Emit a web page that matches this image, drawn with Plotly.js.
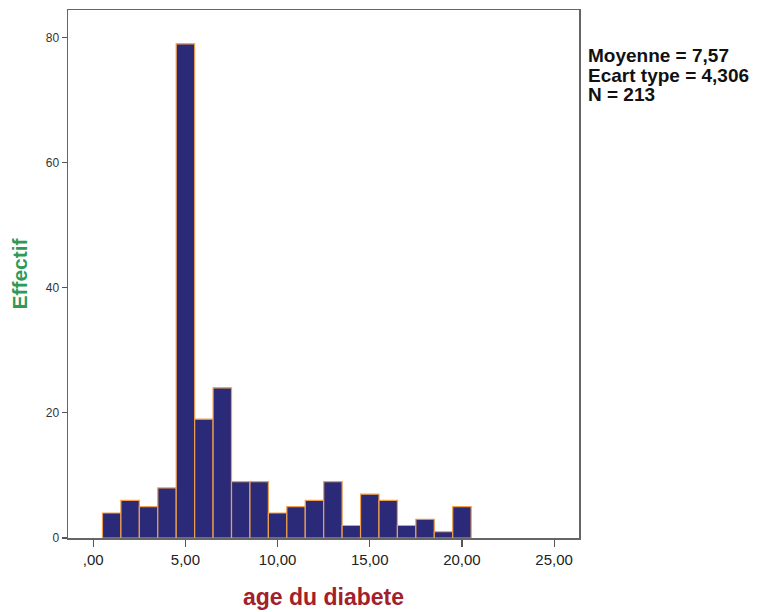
<!DOCTYPE html>
<html>
<head>
<meta charset="utf-8">
<script src="https://cdn.plot.ly/plotly-3.0.1.min.js"></script>
<style>html,body{margin:0;padding:0;background:#fff;}#chart{width:757px;height:612px;}</style>
</head>
<body>
<div id="chart"></div>
<script>
const ages = [1,2,3,4,5,6,7,8,9,10,11,12,13,14,15,16,17,18,19,20];
const counts = [4,6,5,8,79,19,24,9,9,4,5,6,9,2,7,6,2,3,1,5];
const xTickVals = [0,5,10,15,20,25];
const xTickText = [",00","5,00","10,00","15,00","20,00","25,00"];
const yTickVals = [0,20,40,60,80];
const statsLines = ["Moyenne = 7,57","Ecart type = 4,306","N = 213"];

const trace = {
  type: 'bar',
  x: ages,
  y: counts,
  width: 1,
  marker: {color: '#2b2a78', line: {color: '#f0a04c', width: 1.2}},
  hoverinfo: 'x+y'
};

const statsY = [0.913, 0.876, 0.840];
const annotations = statsLines.map((t, i) => ({
  xref: 'paper', yref: 'paper',
  x: 1.014, y: statsY[i], xanchor: 'left', yanchor: 'middle', align: 'left',
  text: '<b>' + t + '</b>',
  showarrow: false,
  font: {size: 19, color: '#111', family: 'Liberation Sans, Arial, sans-serif'}
}));

const layout = {
  width: 757, height: 612,
  margin: {l: 68, r: 178, t: 10, b: 74},
  paper_bgcolor: '#fff', plot_bgcolor: '#fff',
  showlegend: false,
  bargap: 0,
  font: {family: 'Liberation Sans, Arial, sans-serif', color: '#222'},
  xaxis: {
    range: [-1.37, 26.35],
    tickvals: xTickVals, ticktext: xTickText,
    ticks: 'outside', ticklen: 7, tickwidth: 1.2, tickcolor: '#555',
    showline: true, linecolor: '#666', linewidth: 1.5, mirror: true,
    showgrid: false, zeroline: false,
    tickfont: {size: 15, color: '#222'},
    title: {text: '<b>age du diabete</b>', font: {size: 23, color: '#a3202a'}, standoff: 22}
  },
  yaxis: {
    range: [0, 84.4],
    tickvals: yTickVals,
    ticks: 'outside', ticklen: 5, tickwidth: 1.2, tickcolor: '#555',
    showline: true, linecolor: '#666', linewidth: 1.5, mirror: true,
    showgrid: false, zeroline: false,
    tickfont: {size: 12, color: '#333'},
    title: {text: '<b>Effectif</b>', font: {size: 21, color: '#2e9a58'}, standoff: 12}
  },
  annotations: annotations
};

Plotly.newPlot('chart', [trace], layout, {displayModeBar: false, staticPlot: true});
</script>
</body>
</html>
